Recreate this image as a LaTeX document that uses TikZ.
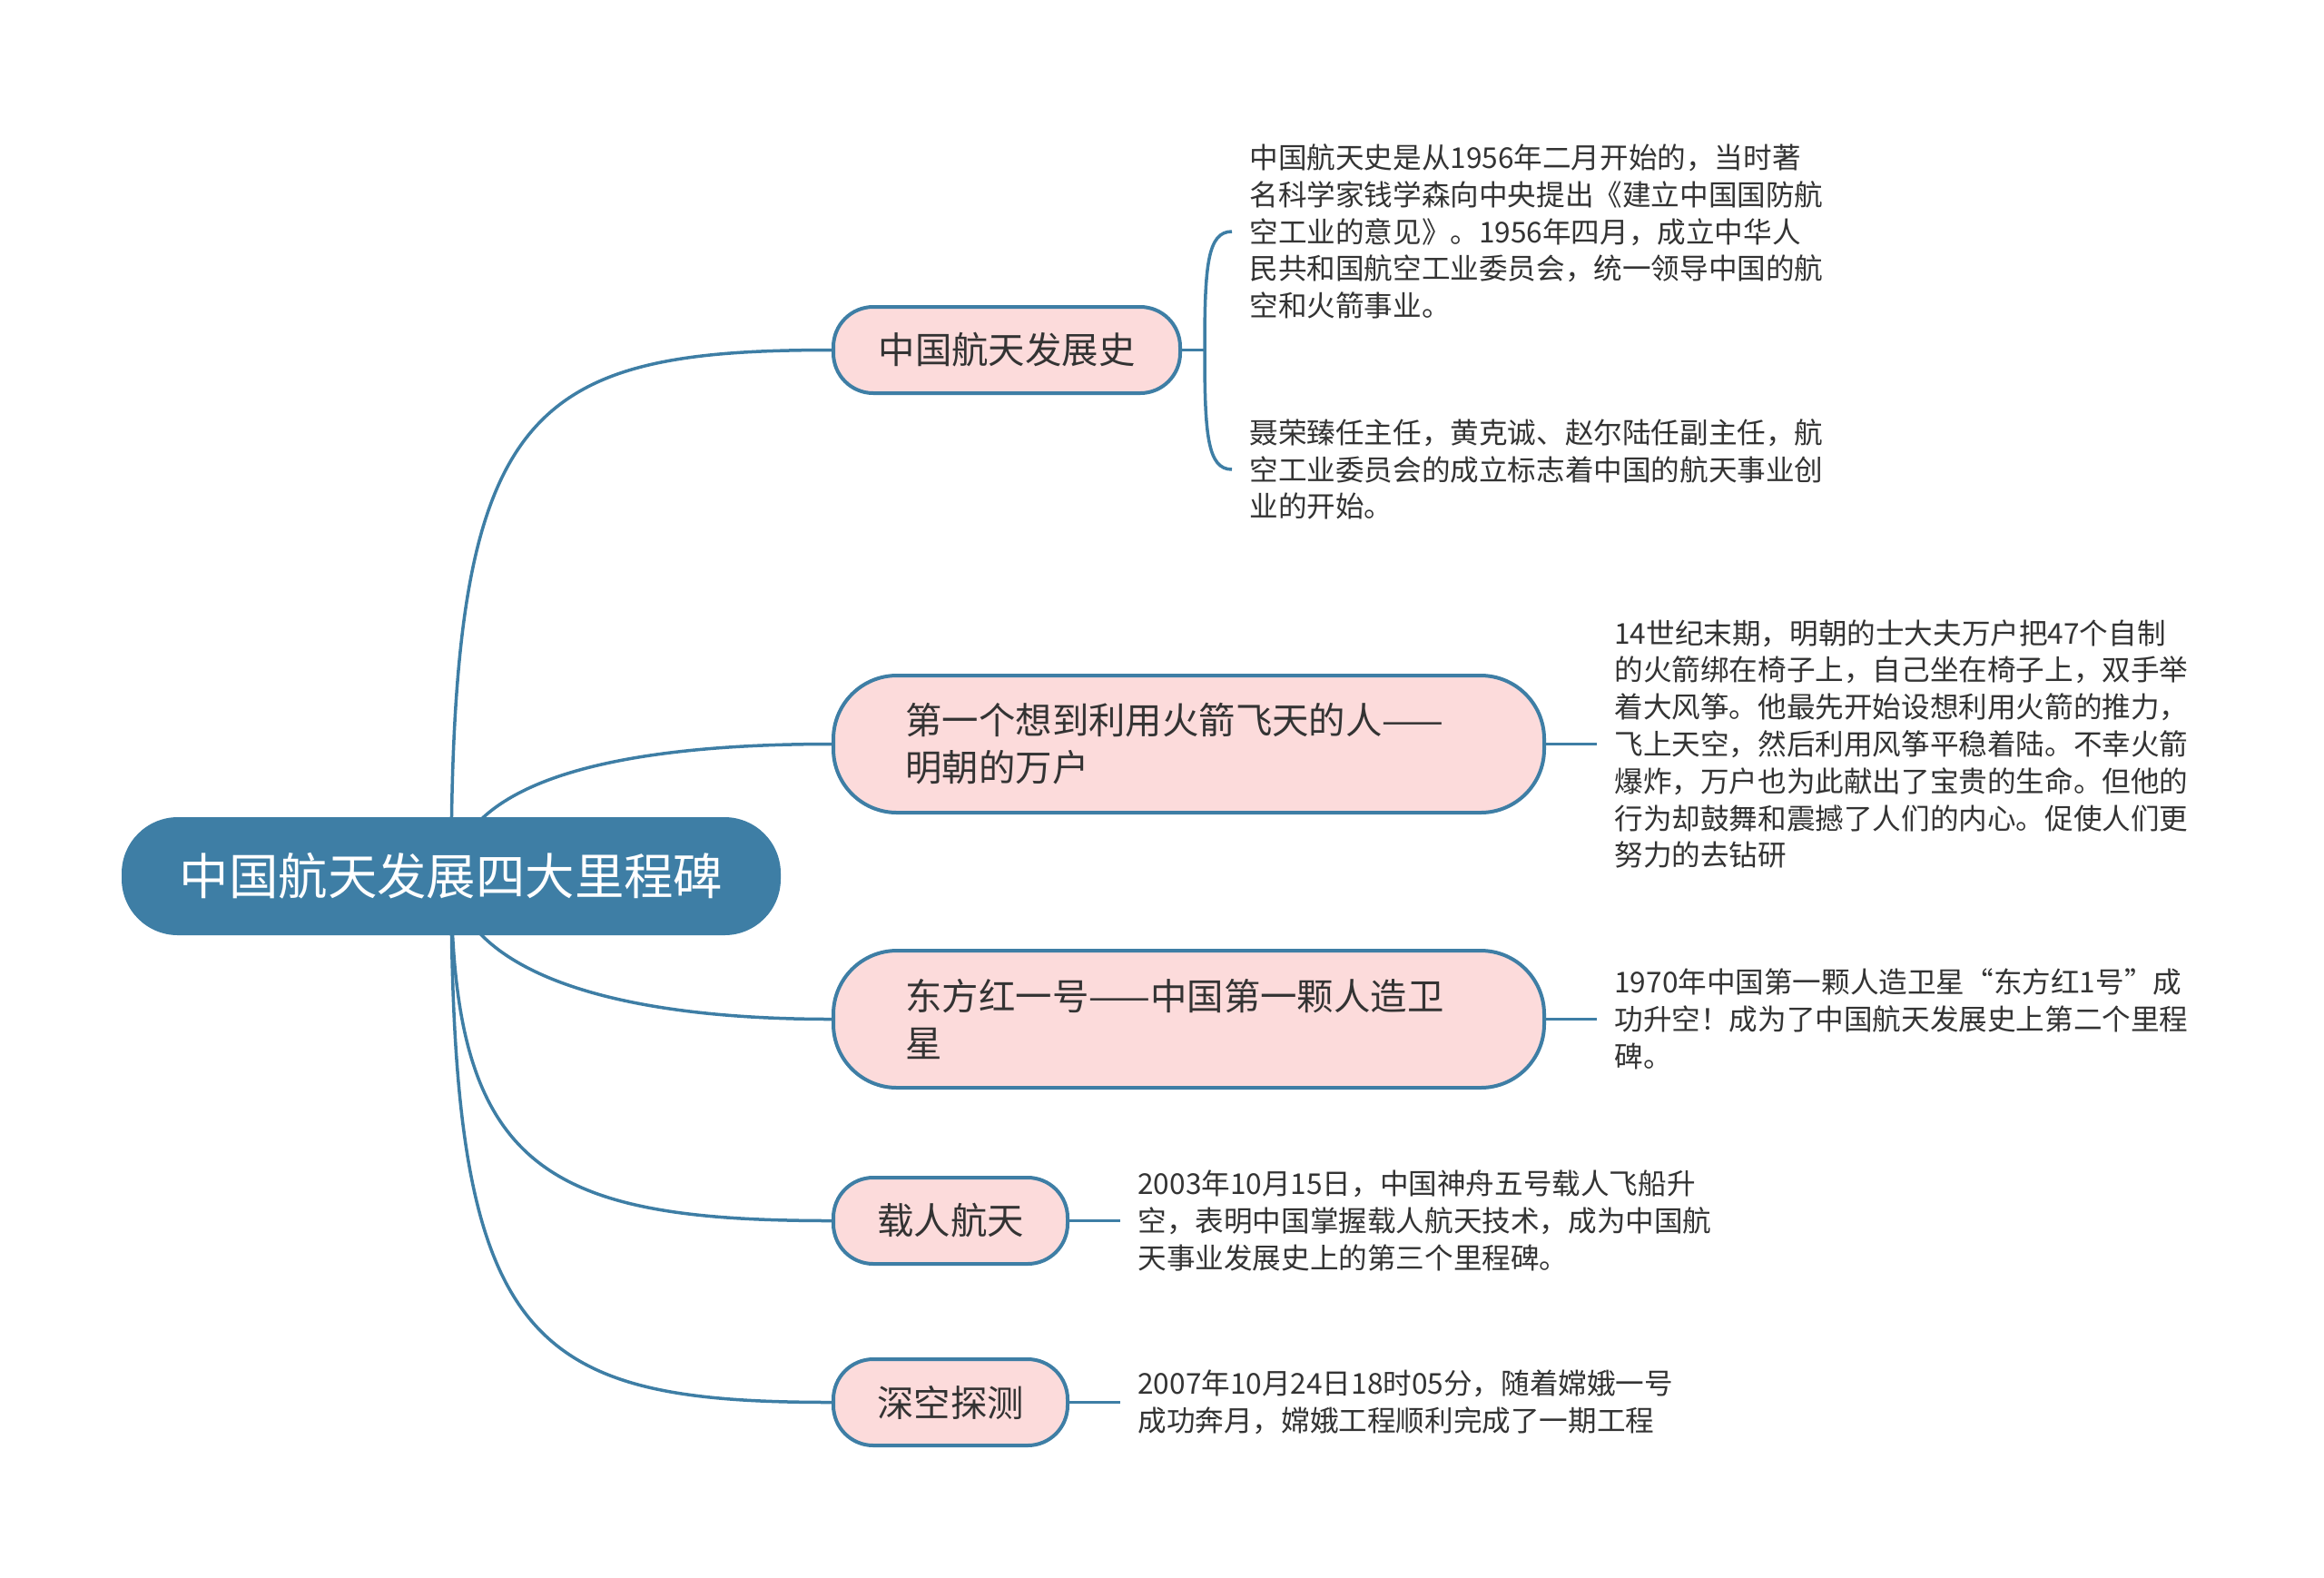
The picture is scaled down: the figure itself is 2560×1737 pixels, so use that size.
\documentclass[tikz,border=0pt]{standalone}
\usepackage{fontspec}
\setmainfont{Noto Sans CJK SC}
\usetikzlibrary{positioning, backgrounds}
\definecolor{mapblue}{HTML}{3E7EA5}
\definecolor{mappink}{HTML}{FCDBDB}
\definecolor{mapink}{HTML}{333333}

\begin{document}
\begin{tikzpicture}[x=0.5pt, y=-0.5pt,
  mainnode/.style={fill=mapblue, text=white, rounded corners=31pt, minimum width=363pt, minimum height=65pt, inner sep=0pt, font=\fontsize{27.2pt}{34pt}\selectfont},
  subnode/.style={draw=mapblue, line width=2pt, fill=mappink, text=mapink, rounded corners=22pt, minimum height=47.5pt, inner sep=0pt, font=\fontsize{20.2pt}{26pt}\selectfont},
  widenode/.style={subnode, rounded corners=35pt, minimum height=75.5pt, text width=312pt, align=left, inner xsep=39.75pt},
  leafnote/.style={anchor=west, align=left, inner xsep=9.5pt, inner ysep=0pt, text=mapink, font=\fontsize{15.8pt}{20.4pt}\selectfont},
  conn/.style={draw=mapblue, line width=1.75pt}]
\useasboundingbox (0,0) rectangle (2560,1737);
% centre and branches
\node[mainnode] (root) at (497,965) {中国航天发展四大里程碑};
\node[subnode, minimum width=191pt] (hist) at (1109,385.5) {中国航天发展史};
\node[widenode] (wanhu) at (1309.5,819.5) {第一个想到利用火箭飞天的人——\\明朝的万户};
\node[widenode] (dfh) at (1309.5,1122.5) {东方红一号——中国第一颗人造卫\\星};
\node[subnode, minimum width=129pt] (crew) at (1047,1344.5) {载人航天};
\node[subnode, minimum width=129pt] (deep) at (1047,1544.5) {深空探测};
% notes
\node[leafnote] (hista) at (1357,255) {中国航天史是从1956年二月开始的，当时著\\名科学家钱学森向中央提出《建立中国国防航\\空工业的意见》。1956年四月，成立中华人\\民共和国航空工业委员会，统一领导中国的航\\空和火箭事业。};
\node[leafnote] (histb) at (1357,517) {聂荣臻任主任，黄克诚、赵尔陆任副主任，航\\空工业委员会的成立标志着中国的航天事业创\\业的开始。};
\node[leafnote, right=28pt of wanhu] (wanhunote) {14世纪末期，明朝的士大夫万户把47个自制\\的火箭绑在椅子上，自己坐在椅子上，双手举\\着大风筝。他最先开始设想利用火箭的推力，\\飞上天空，然后利用风筝平稳着陆。不幸火箭\\爆炸，万户也为此献出了宝贵的生命。但他的\\行为却鼓舞和震撼了人们的内心。促使人们更\\努力的去钻研};
\node[leafnote, right=28pt of dfh] (dfhnote) {1970年中国第一颗人造卫星“东方红1号”成\\功升空！成为了中国航天发展史上第二个里程\\碑。};
\node[leafnote, right=28pt of crew] (crewnote) {2003年10月15日，中国神舟五号载人飞船升\\空，表明中国掌握载人航天技术，成为中国航\\天事业发展史上的第三个里程碑。};
\node[leafnote, right=28pt of deep] (deepnote) {2007年10月24日18时05分，随着嫦娥一号\\成功奔月，嫦娥工程顺利完成了一期工程};
% bracket and note links
\coordinate (brk) at (1327,385.5);
\draw[conn] (hist.east) -- (brk);
\draw[conn] (hista.west) .. controls +(-27,0) and +(0,-93) .. (brk) .. controls +(0,93) and +(-27,0) .. (histb.west);
\draw[conn] (wanhu.east) -- (wanhunote.west);
\draw[conn] (dfh.east) -- (dfhnote.west);
\draw[conn] (crew.east) -- (crewnote.west);
\draw[conn] (deep.east) -- (deepnote.west);
% curves from the centre, behind the nodes
\begin{scope}[on background layer]
\fill[white] (0,0) rectangle (2560,1737);
\draw[conn] (root.center) .. controls +(0,-515) and +(-338,0) .. (hist.west);
\draw[conn] (root.center) .. controls +(13,-95) and +(-268,0) .. (wanhu.west);
\draw[conn] (root.center) .. controls +(13,95) and +(-268,0) .. (dfh.west);
\draw[conn] (root.center) .. controls +(0,322) and +(-318,0) .. (crew.west);
\draw[conn] (root.center) .. controls +(0,515) and +(-338,0) .. (deep.west);
\end{scope}
\end{tikzpicture}
\end{document}
